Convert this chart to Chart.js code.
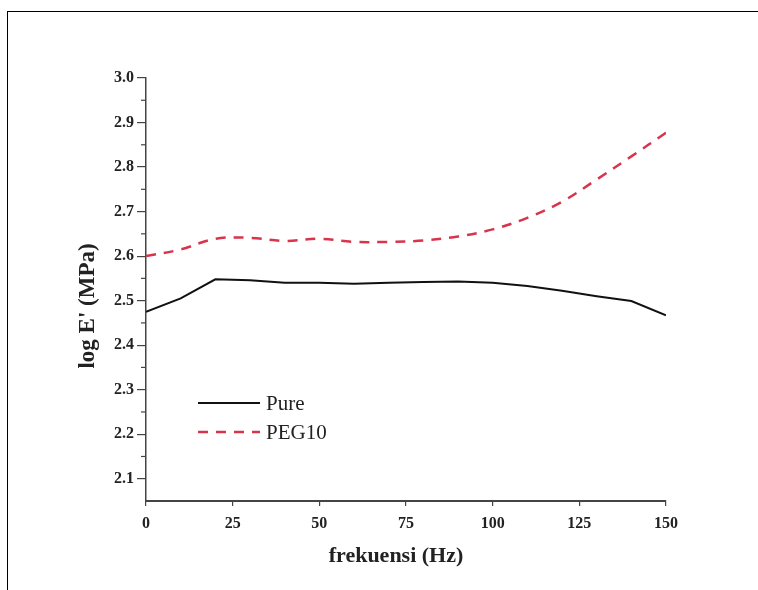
<!DOCTYPE html>
<html>
<head>
<meta charset="utf-8">
<script src="https://cdn.jsdelivr.net/npm/chart.js@4"></script>
<style>
  body { margin: 0; background: #fff; }
  .frame { position: absolute; left: 7px; top: 11px; width: 760px; height: 590px; border-top: 1px solid #000; border-left: 1px solid #000; }
  #wrap { position: absolute; left: 0; top: 0; width: 758px; height: 590px; }
</style>
</head>
<body>
<div class="frame"></div>
<div id="wrap"><canvas id="chart" width="758" height="590"></canvas></div>
<script>
// Data

const freq = [0, 10, 20, 30, 40, 50, 60, 70, 80, 90, 100, 110, 120, 130, 140, 150];
const pure = [2.475, 2.505, 2.548, 2.546, 2.540, 2.540, 2.538, 2.540, 2.542, 2.543, 2.540, 2.533, 2.522, 2.510, 2.499, 2.467];
const peg10 = [2.600, 2.615, 2.639, 2.641, 2.634, 2.639, 2.632, 2.632, 2.635, 2.644, 2.660, 2.686, 2.722, 2.772, 2.824, 2.877];
const xTicks = [0, 25, 50, 75, 100, 125, 150];
const yTicks = [2.1, 2.2, 2.3, 2.4, 2.5, 2.6, 2.7, 2.8, 2.9, 3.0];
const seriesNames = ['Pure', 'PEG10'];
const xTitle = 'frekuensi (Hz)';
const yTitle = "log E' (MPa)";

const toPoints = (ys) => freq.map((f, i) => ({ x: f, y: ys[i] }));

const serif = '"Liberation Serif", "Times New Roman", serif';

// Minor ticks, axis titles and the legend inside the plot

const extrasPlugin = {
  id: 'extras',
  afterDraw(chart) {
    const ctx = chart.ctx;
    const yScale = chart.scales.y;
    const left = chart.chartArea.left;
    ctx.save();
    ctx.strokeStyle = '#444';
    ctx.lineWidth = 1.2;
    for (let i = 0; i < yTicks.length; i++) {
      const v = yTicks[i] + 0.05;
      if (v > 3.0) continue;
      const py = yScale.getPixelForValue(v);
      ctx.beginPath();
      ctx.moveTo(left - 5, py);
      ctx.lineTo(left, py);
      ctx.stroke();
    }

    // titles
    ctx.fillStyle = '#222';
    ctx.textAlign = 'center';
    ctx.textBaseline = 'middle';
    ctx.font = 'bold 22px ' + serif;
    ctx.fillText(xTitle, 396, 556);
    ctx.save();
    ctx.translate(88, 306);
    ctx.rotate(-Math.PI / 2);
    ctx.font = 'bold 23px ' + serif;
    ctx.fillText(yTitle, 0, 0);
    ctx.restore();

    // legend
    const rows = [403, 432];
    ctx.textAlign = 'left';
    chart.data.datasets.forEach((ds, i) => {
      const y = rows[i];
      ctx.strokeStyle = ds.borderColor;
      ctx.lineWidth = ds.borderWidth;
      ctx.setLineDash(ds.borderDash || []);
      ctx.beginPath();
      ctx.moveTo(198, y);
      ctx.lineTo(260, y);
      ctx.stroke();
      ctx.setLineDash([]);
      ctx.fillStyle = '#222';
      ctx.font = '21px ' + serif;
      ctx.fillText(ds.label, 266, y + 1);
    });
    ctx.restore();
  }
};

const tickFont = { family: serif, size: 16, weight: 'bold' };

const chart = new Chart(document.querySelector('#chart'), {
  type: 'line',
  data: {
    datasets: [{
      label: seriesNames[0],
      data: toPoints(pure),
      borderColor: '#111',
      borderWidth: 2,
      pointRadius: 0,
      tension: 0
    }, {
      label: seriesNames[1],
      data: toPoints(peg10),
      borderColor: '#d8344c',
      borderWidth: 2.5,
      borderDash: [10, 8],
      pointRadius: 0,
      tension: 0.35
    }]
  },
  options: {
    responsive: false,
    animation: false,
    layout: { padding: { top: 78, right: 92, left: 0, bottom: 0 } },
    plugins: {
      legend: { display: false },
      tooltip: { enabled: false }
    },
    scales: {
      x: {
        type: 'linear',
        min: 0,
        max: 150,
        afterBuildTicks: (scale) => { scale.ticks = xTicks.map(v => ({ value: v })); },
        afterFit: (scale) => { scale.height = 89; },
        ticks: { font: tickFont, color: '#222', padding: 8, maxRotation: 0 },
        grid: { display: true, drawOnChartArea: false, tickLength: 5, color: '#444', lineWidth: 1.2 },
        border: { display: true, color: '#444', width: 2 }
      },
      y: {
        type: 'linear',
        min: 2.05,
        max: 3.0,
        afterBuildTicks: (scale) => { scale.ticks = yTicks.map(v => ({ value: v })); },
        afterFit: (scale) => { scale.width = 146; },
        ticks: { font: tickFont, color: '#222', padding: 3, callback: (v) => v.toFixed(1) },
        grid: { display: true, drawOnChartArea: false, tickLength: 9, color: '#444', lineWidth: 1.2 },
        border: { display: true, color: '#444', width: 1.5 }
      }
    }
  },
  plugins: [extrasPlugin]
});
</script>
</body>
</html>
